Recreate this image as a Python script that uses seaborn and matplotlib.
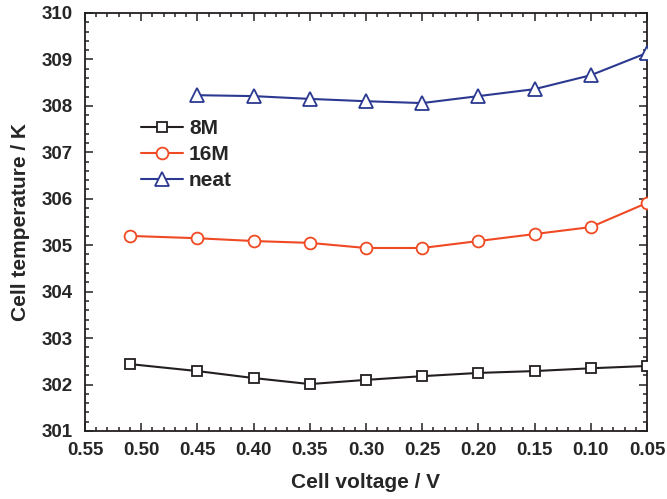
import matplotlib
matplotlib.use("Agg")
import matplotlib.pyplot as plt
from matplotlib.ticker import MultipleLocator, FormatStrFormatter
import numpy as np
import pandas as pd
import seaborn as sns

# Cell voltage (V) and cell temperature (K) for each electrolyte
voltage_8m = [0.51, 0.45, 0.40, 0.35, 0.30, 0.25, 0.20, 0.15, 0.10, 0.05]
temp_8m = [302.44, 302.29, 302.14, 302.01, 302.10, 302.18, 302.25, 302.29, 302.35, 302.40]

voltage_16m = [0.51, 0.45, 0.40, 0.35, 0.30, 0.25, 0.20, 0.15, 0.10, 0.05]
temp_16m = [305.20, 305.15, 305.09, 305.05, 304.94, 304.94, 305.09, 305.24, 305.39, 305.91]

voltage_neat = [0.45, 0.40, 0.35, 0.30, 0.25, 0.20, 0.15, 0.10, 0.05]
temp_neat = [308.23, 308.21, 308.15, 308.10, 308.06, 308.21, 308.36, 308.66, 309.14]

series_names = ["8M", "16M", "neat"]
series_colors = ["#231f20", "#ef4a23", "#2b3990"]
series_markers = ["s", "o", "^"]
marker_sizes = [7.5, 8.5, 9.5]

sns.set_theme(style="ticks")
plt.rcParams["font.family"] = ["Liberation Sans", "DejaVu Sans"]
plt.rcParams["font.weight"] = "bold"

fig = plt.figure(figsize=(6.67, 4.99), dpi=100)
ax = fig.add_axes([0.1274, 0.1363, 0.8426, 0.8377])

datasets = [(voltage_8m, temp_8m), (voltage_16m, temp_16m), (voltage_neat, temp_neat)]
for (xv, yv), name, col, mk, ms in zip(datasets, series_names, series_colors,
                                        series_markers, marker_sizes):
    df = pd.DataFrame({"voltage": xv, "temperature": yv})
    sns.lineplot(data=df, x="voltage", y="temperature", ax=ax, color=col,
                 marker=mk, markersize=ms, markerfacecolor="white",
                 markeredgecolor=col, markeredgewidth=1.3, linewidth=1.5,
                 label=name, sort=False, clip_on=True, zorder=3)

ax.set_xlim(0.55, 0.05)
ax.set_ylim(301, 310)
ax.xaxis.set_major_locator(MultipleLocator(0.05))
ax.xaxis.set_minor_locator(MultipleLocator(0.01))
ax.yaxis.set_major_locator(MultipleLocator(1))
ax.yaxis.set_minor_locator(MultipleLocator(0.2))
ax.xaxis.set_major_formatter(FormatStrFormatter("%.2f"))
ax.yaxis.set_major_formatter(FormatStrFormatter("%d"))

ax.tick_params(which="both", direction="in", top=True, right=True,
               color="#231f20", width=1.1)
ax.tick_params(which="major", length=6, labelsize=13.5)
ax.tick_params(axis="x", which="major", pad=8)
ax.tick_params(axis="y", which="major", pad=9)
ax.tick_params(which="minor", length=3)
for lbl in ax.get_xticklabels() + ax.get_yticklabels():
    lbl.set_fontweight("bold")
for sp in ax.spines.values():
    sp.set_visible(True)
    sp.set_linewidth(1.3)
    sp.set_color("#231f20")

ax.set_xlabel("Cell voltage / V", fontsize=15, fontweight="bold", labelpad=10)
ax.set_ylabel("Cell temperature / K", fontsize=15, fontweight="bold", labelpad=8)

leg = ax.legend(loc="upper left", bbox_to_anchor=(0.085, 0.766), frameon=False,
                fontsize=15, handlelength=2.0, handletextpad=0.3,
                labelspacing=0.33, borderaxespad=0)
for t in leg.get_texts():
    t.set_fontweight("bold")

fig.savefig("out.png", dpi=100)
